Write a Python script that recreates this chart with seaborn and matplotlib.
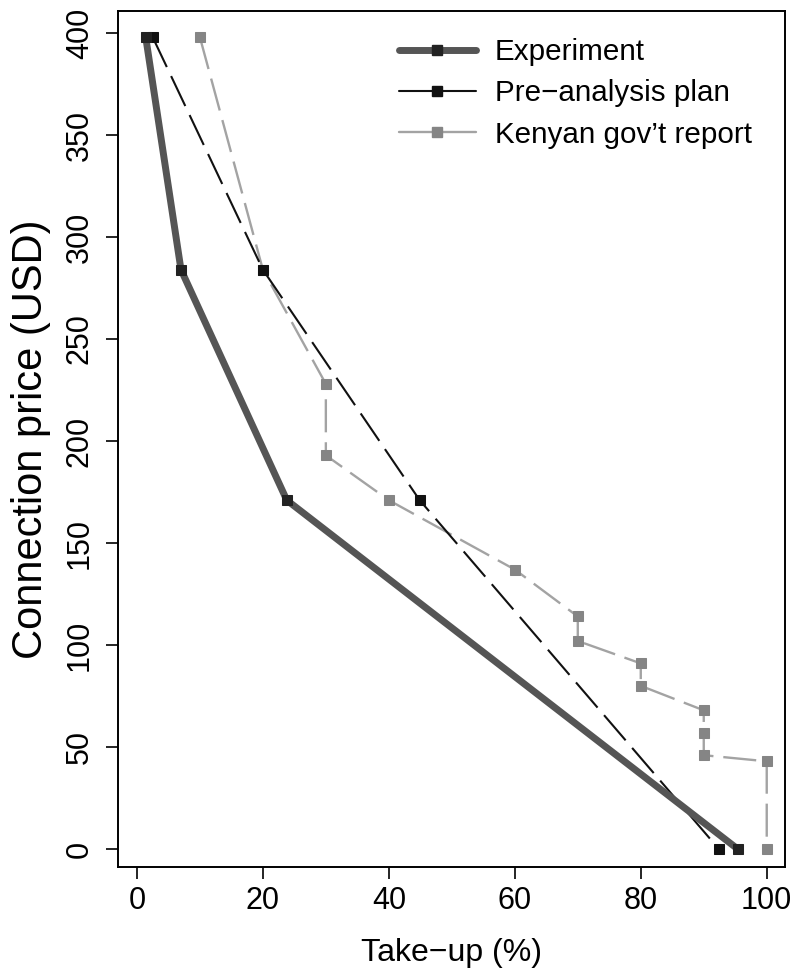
import matplotlib
matplotlib.use("Agg")
import matplotlib.pyplot as plt
import seaborn as sns
import pandas as pd
from matplotlib.lines import Line2D

# Data
exp_takeup = [1.4, 7.0, 23.8, 95.4]
exp_price = [398, 284, 171, 0]
pap_takeup = [2.5, 20.0, 44.9, 92.4]
pap_price = [398, 284, 171, 0]
gov_takeup = [10, 20, 30, 30, 40, 60, 70, 70, 80, 80, 90, 90, 90, 100, 100]
gov_price = [398, 284, 228, 193, 171, 137, 114, 102, 91, 80, 68, 57, 46, 43, 0]
series_names = ["Experiment", "Pre\u2212analysis plan", "Kenyan gov\u2019t report"]
x_ticks = [0, 20, 40, 60, 80, 100]
y_ticks = [0, 50, 100, 150, 200, 250, 300, 350, 400]

sns.set_style("ticks")
plt.rcParams['font.family'] = ['Liberation Sans', 'DejaVu Sans']
plt.rcParams['text.color'] = 'black'
plt.rcParams['axes.labelcolor'] = 'black'

fig = plt.figure(figsize=(7.96, 9.73), dpi=100)
ax = fig.add_axes([118/796, 1 - 867/973, (785-118)/796, (867-11)/973])

df_exp = pd.DataFrame({"x": exp_takeup, "y": exp_price})
df_pap = pd.DataFrame({"x": pap_takeup, "y": pap_price})
df_gov = pd.DataFrame({"x": gov_takeup, "y": gov_price})

MS = 7.3
sns.lineplot(data=df_gov, x="x", y="y", sort=False, estimator=None, ax=ax,
             color="#a3a3a3", lw=1.7, linestyle=(0, (14.0, 4.2)),
             marker="s", markersize=MS, markerfacecolor="#858585",
             markeredgecolor="#858585", zorder=2)
sns.lineplot(data=df_pap, x="x", y="y", sort=False, estimator=None, ax=ax,
             color="#111111", lw=1.5, linestyle=(0, (15.9, 4.8)),
             marker="s", markersize=MS, markerfacecolor="#111111",
             markeredgecolor="#111111", zorder=3)
sns.lineplot(data=df_exp, x="x", y="y", sort=False, estimator=None, ax=ax,
             color="#555555", lw=5.0,
             marker="s", markersize=MS, markerfacecolor="#222222",
             markeredgecolor="#222222", zorder=4)

ax.set_xlim(-3.0, 102.9)
ax.set_ylim(-8.8, 410.8)
ax.set_xticks(x_ticks)
ax.set_yticks(y_ticks)
ax.set_yticklabels([str(v) for v in y_ticks], rotation=90, va="center")
for s in ax.spines.values():
    s.set_linewidth(1.4)
    s.set_color("black")
ax.tick_params(axis="both", direction="out", length=8.6, width=1.2,
               labelsize=22, colors="black")
ax.tick_params(axis="x", pad=5)
ax.tick_params(axis="y", pad=8)

ax.set_xlabel("Take\u2212up (%)", fontsize=23, labelpad=16)
ax.set_ylabel("Connection price (USD)", fontsize=30, labelpad=10)

handles = [
    Line2D([], [], color="#555555", lw=5.0, marker="s", markersize=MS,
           markerfacecolor="#222222", markeredgecolor="#222222"),
    Line2D([], [], color="#111111", lw=1.5, marker="s", markersize=MS,
           markerfacecolor="#111111", markeredgecolor="#111111"),
    Line2D([], [], color="#a3a3a3", lw=1.7, marker="s", markersize=MS,
           markerfacecolor="#858585", markeredgecolor="#858585"),
]
ax.legend(handles, series_names, loc="upper left", frameon=False,
          fontsize=21.3, handlelength=2.6, handletextpad=0.64,
          labelspacing=0.45, borderpad=0, borderaxespad=0,
          bbox_to_anchor=(399/796, 1 - 38/973),
          bbox_transform=fig.transFigure, labelcolor="black")

fig.savefig("out.png", dpi=100)
